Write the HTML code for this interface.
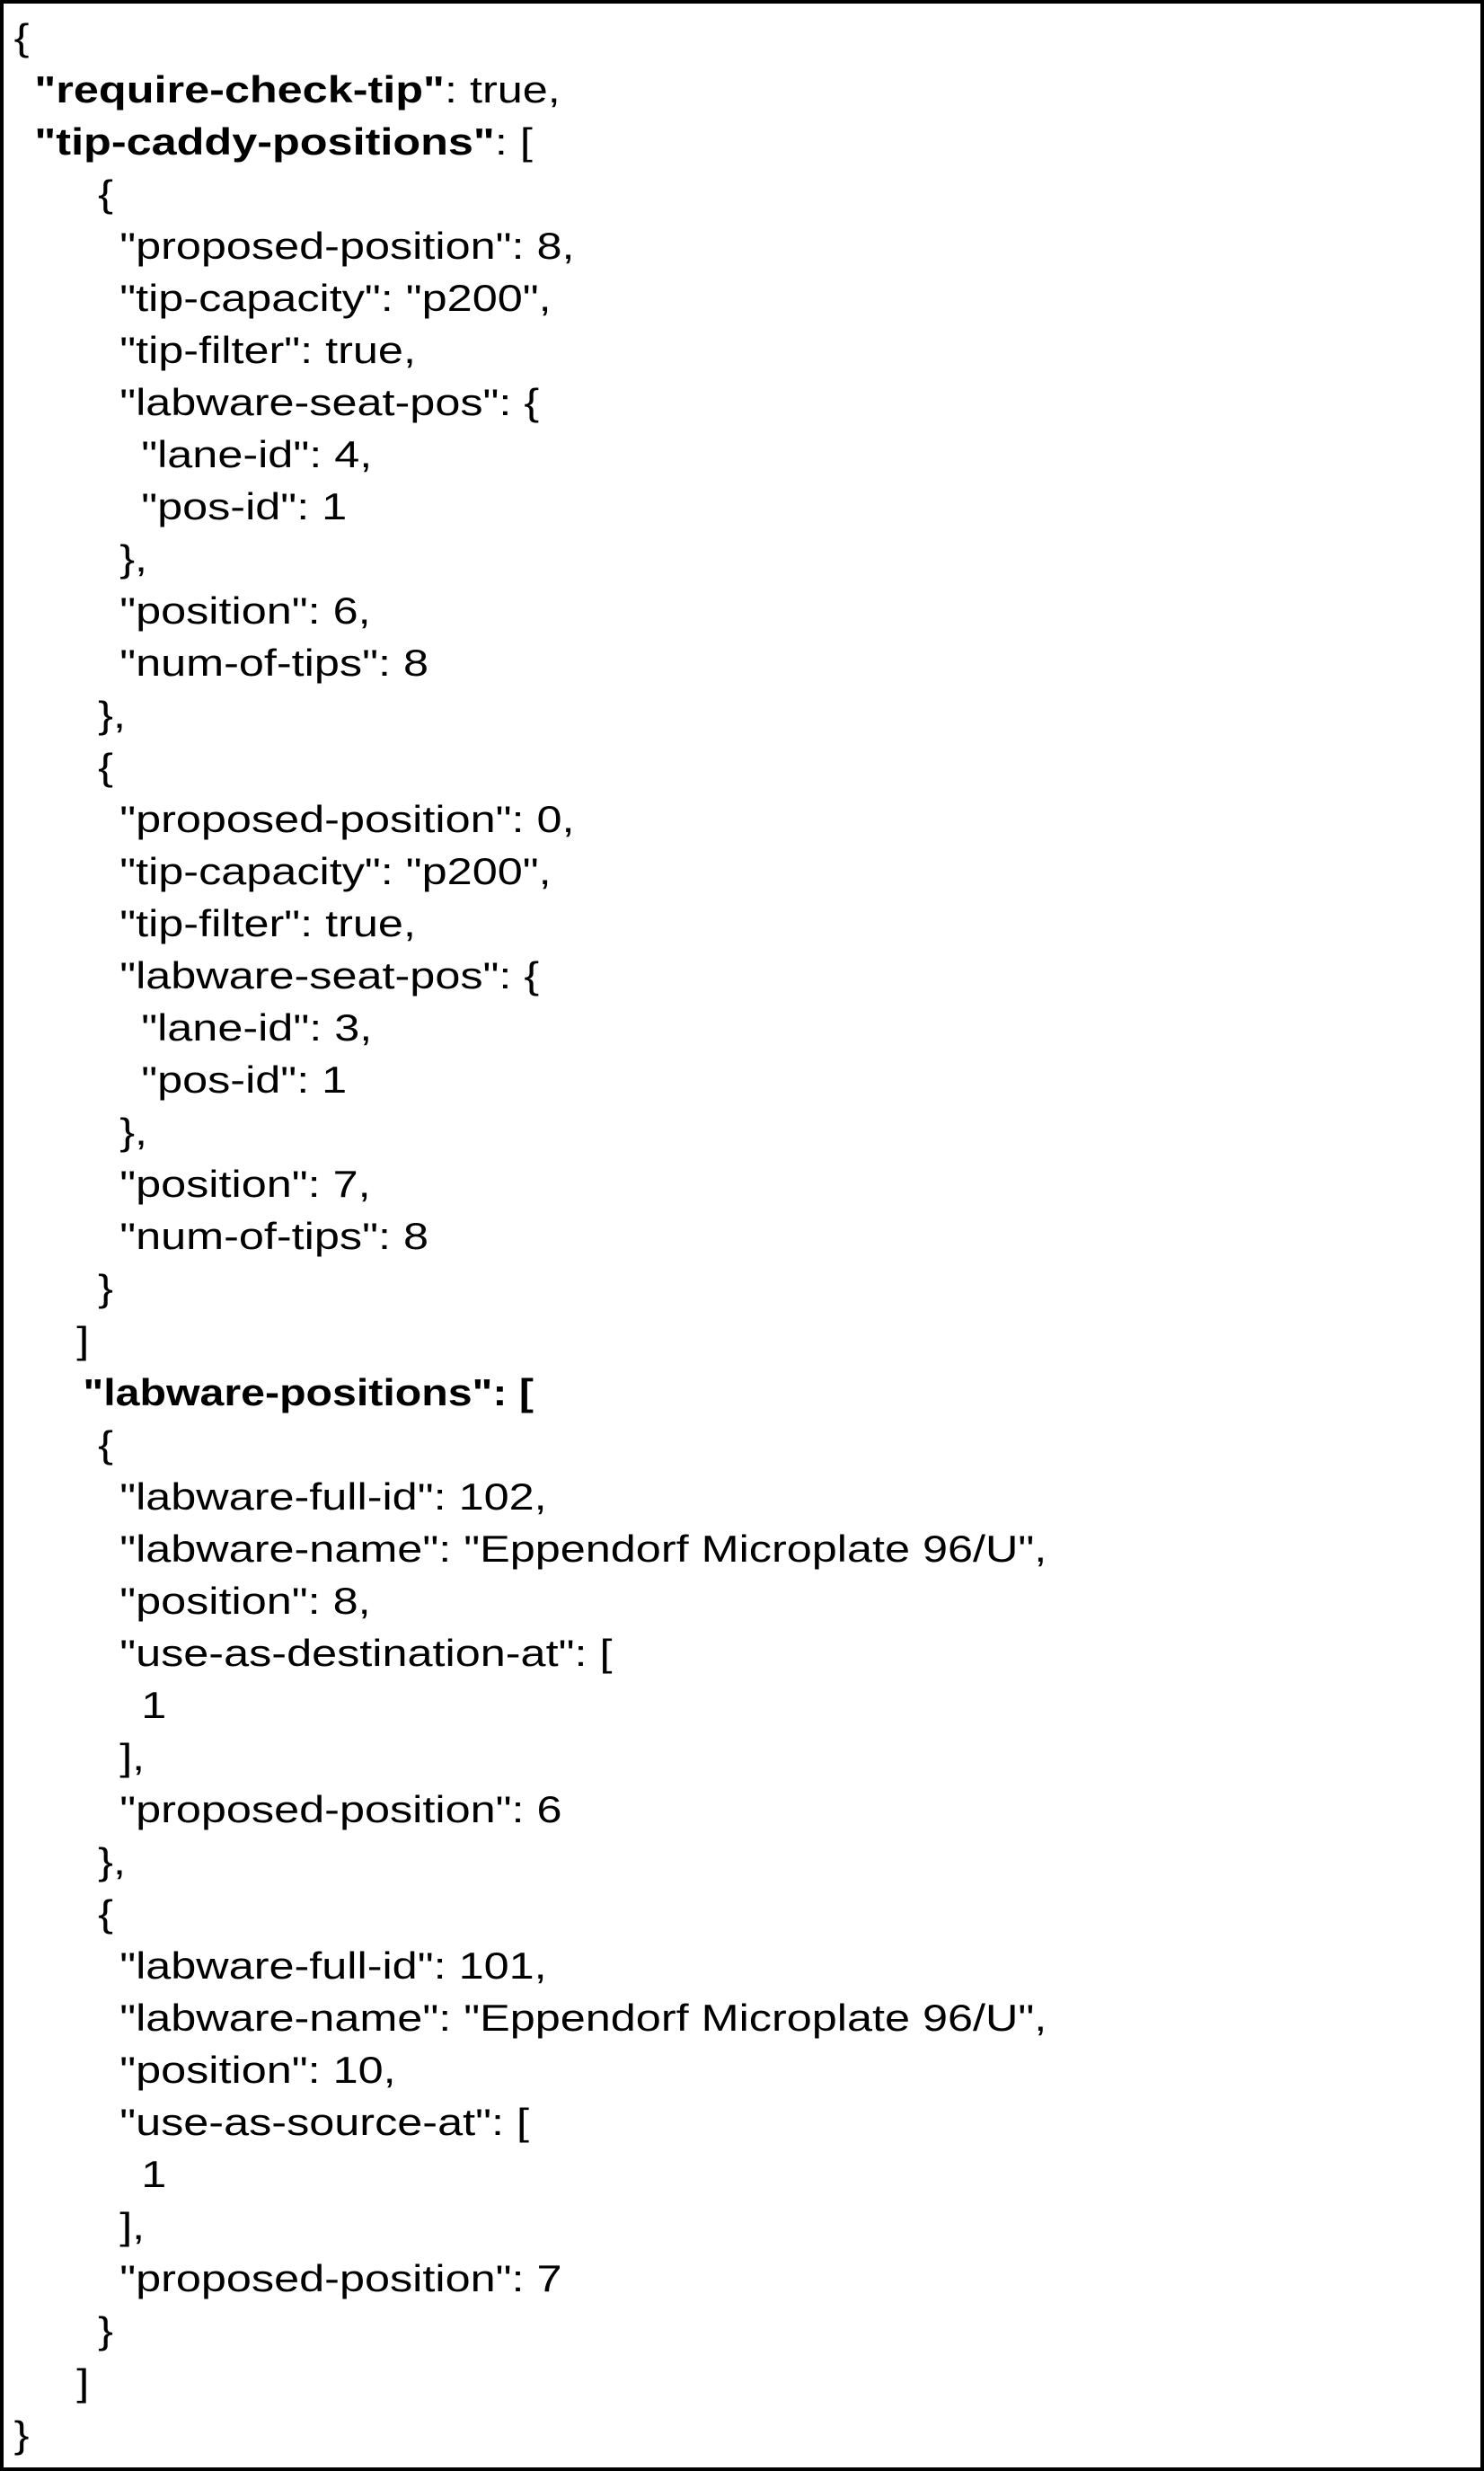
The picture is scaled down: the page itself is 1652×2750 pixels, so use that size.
<!DOCTYPE html>
<html><head><meta charset="utf-8"><style>
html,body{margin:0;padding:0;background:#fff;}
svg{display:block;}
text{font-family:"Liberation Sans",sans-serif;font-size:42px;fill:#000;}
.b{font-weight:bold;}
</style></head><body>
<svg width="1652" height="2750" viewBox="0 0 1652 2750" xmlns="http://www.w3.org/2000/svg">
<rect x="2" y="2" width="1648" height="2746" fill="#fff" stroke="#000" stroke-width="4"/>
<g transform="scale(1.2,1)">
<text x="13" y="56">{</text>
<text x="32" y="114"><tspan class="b">"require-check-tip"</tspan>: true,</text>
<text x="32" y="172"><tspan class="b">"tip-caddy-positions"</tspan>: [</text>
<text x="91" y="230">{</text>
<text x="111" y="288">"proposed-position": 8,</text>
<text x="111" y="346">"tip-capacity": "p200",</text>
<text x="111" y="404">"tip-filter": true,</text>
<text x="111" y="462">"labware-seat-pos": {</text>
<text x="131" y="520">"lane-id": 4,</text>
<text x="131" y="578">"pos-id": 1</text>
<text x="111" y="636">},</text>
<text x="111" y="694">"position": 6,</text>
<text x="111" y="752">"num-of-tips": 8</text>
<text x="91" y="810">},</text>
<text x="91" y="868">{</text>
<text x="111" y="926">"proposed-position": 0,</text>
<text x="111" y="984">"tip-capacity": "p200",</text>
<text x="111" y="1042">"tip-filter": true,</text>
<text x="111" y="1100">"labware-seat-pos": {</text>
<text x="131" y="1158">"lane-id": 3,</text>
<text x="131" y="1216">"pos-id": 1</text>
<text x="111" y="1274">},</text>
<text x="111" y="1332">"position": 7,</text>
<text x="111" y="1390">"num-of-tips": 8</text>
<text x="91" y="1448">}</text>
<text x="71" y="1506">]</text>
<text x="77" y="1564" class="b" textLength="418" lengthAdjust="spacingAndGlyphs">"labware-positions": [</text>
<text x="91" y="1622">{</text>
<text x="111" y="1680">"labware-full-id": 102,</text>
<text x="111" y="1738">"labware-name": "Eppendorf Microplate 96/U",</text>
<text x="111" y="1796">"position": 8,</text>
<text x="111" y="1854">"use-as-destination-at": [</text>
<text x="131" y="1912">1</text>
<text x="111" y="1970">],</text>
<text x="111" y="2028">"proposed-position": 6</text>
<text x="91" y="2086">},</text>
<text x="91" y="2144">{</text>
<text x="111" y="2202">"labware-full-id": 101,</text>
<text x="111" y="2260">"labware-name": "Eppendorf Microplate 96/U",</text>
<text x="111" y="2318">"position": 10,</text>
<text x="111" y="2376">"use-as-source-at": [</text>
<text x="131" y="2434">1</text>
<text x="111" y="2492">],</text>
<text x="111" y="2550">"proposed-position": 7</text>
<text x="91" y="2608">}</text>
<text x="71" y="2666">]</text>
<text x="13" y="2724">}</text>
</g>
</svg>
</body></html>
